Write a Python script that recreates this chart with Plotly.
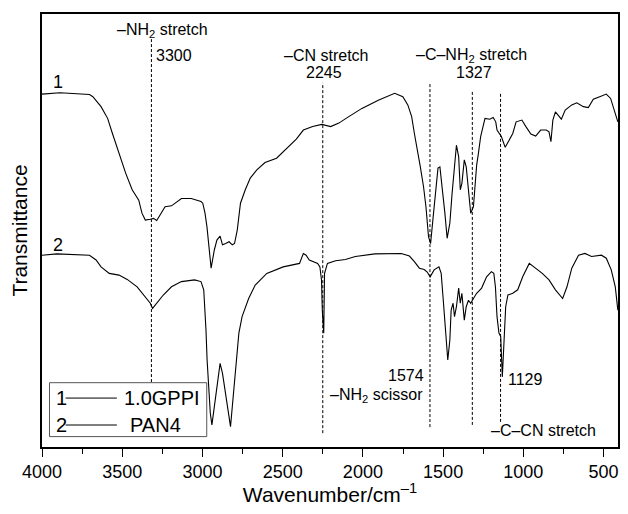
import plotly.graph_objects as go

# curve 1: 1.0GPPI
wn1 = [4000, 3888, 3704, 3683, 3632, 3591, 3561, 3520, 3478, 3438, 3397, 3377, 3356, 3325, 3305, 3285,
       3264, 3233, 3193, 3172, 3131, 3070, 3009, 2998, 2984, 2972, 2961, 2951, 2946, 2926, 2910, 2890,
       2875, 2855, 2834, 2814, 2800, 2783, 2773, 2763, 2733, 2702, 2661, 2610, 2538, 2477, 2415, 2371,
       2313, 2256, 2201, 2150, 2109, 2088, 2006, 1904, 1802, 1751, 1720, 1696, 1679, 1663, 1642, 1622,
       1607, 1591, 1578, 1564, 1546, 1532, 1520, 1506, 1489, 1475, 1458, 1444, 1429, 1417, 1403, 1393,
       1383, 1368, 1356, 1342, 1328, 1311, 1291, 1280, 1266, 1239, 1209, 1188, 1172, 1164, 1137, 1113,
       1086, 1066, 1045, 1009, 984, 953, 923, 892, 857, 840, 828, 816, 800, 775, 763, 739, 698, 667,
       626, 595, 564, 524, 483, 456, 432, 411]
t1 = [81.5, 81.8, 81.4, 80.9, 78.6, 75.9, 72.4, 67.8, 63.2, 59.4, 57.0, 54.0, 52.4, 52.6, 52.8, 52.3,
      53.6, 55.5, 55.7, 56.3, 57.4, 57.4, 56.7, 56.3, 54.0, 50.9, 46.3, 43.6, 41.3, 45.5, 47.8, 48.7,
      46.7, 47.0, 47.4, 46.7, 47.0, 50.1, 54.0, 56.3, 59.4, 62.1, 64.0, 65.7, 66.7, 69.0, 71.1, 73.2,
      74.0, 74.5, 74.0, 74.8, 75.9, 76.3, 78.2, 80.1, 81.7, 80.9, 79.0, 76.3, 72.4, 68.6, 64.7, 60.1,
      55.5, 48.6, 47.0, 52.4, 59.4, 64.4, 64.7, 60.1, 54.0, 48.2, 51.7, 58.6, 64.7, 69.7, 67.0, 59.4,
      60.9, 66.3, 64.7, 60.1, 54.0, 55.5, 65.1, 67.8, 71.7, 75.9, 75.7, 76.1, 75.1, 73.2, 71.7, 69.2,
      70.9, 72.4, 75.1, 75.5, 74.0, 72.3, 71.8, 73.2, 73.2, 72.8, 70.5, 75.5, 77.4, 76.3, 75.7, 77.8,
      79.0, 79.5, 78.6, 78.4, 80.3, 80.9, 81.5, 80.5, 77.8, 75.1]

# curve 2: PAN4
wn2 = [4000, 3908, 3704, 3663, 3632, 3581, 3520, 3469, 3407, 3356, 3325, 3311, 3285, 3244, 3193, 3131,
       3049, 3009, 2992, 2983, 2978, 2971, 2963, 2951, 2941, 2926, 2910, 2890, 2875, 2855, 2834, 2825,
       2814, 2794, 2773, 2753, 2712, 2671, 2599, 2497, 2395, 2371, 2354, 2334, 2282, 2268, 2258, 2253,
       2248, 2244, 2239, 2221, 2170, 2109, 2047, 1925, 1761, 1710, 1679, 1648, 1618, 1599, 1581, 1556,
       1526, 1512, 1499, 1485, 1471, 1458, 1450, 1438, 1429, 1417, 1403, 1393, 1383, 1368, 1356, 1342,
       1328, 1311, 1291, 1260, 1229, 1199, 1184, 1174, 1164, 1152, 1141, 1131, 1123, 1110, 1096, 1066,
       1035, 1004, 963, 923, 882, 840, 800, 755, 728, 698, 656, 616, 575, 513, 483, 452, 427, 411]
t2 = [44.3, 44.6, 44.3, 43.2, 41.6, 40.1, 39.7, 38.7, 37.0, 34.7, 33.2, 32.0, 33.2, 35.1, 37.0, 38.2,
      38.6, 38.2, 36.3, 31.6, 27.0, 20.1, 13.9, 7.8, 5.1, 9.3, 14.7, 19.3, 17.0, 11.6, 6.2, 4.7,
      9.3, 18.5, 26.3, 30.1, 34.3, 37.4, 40.1, 41.6, 42.4, 44.7, 44.3, 43.2, 42.4, 41.6, 38.6, 31.6,
      26.3, 26.3, 40.1, 42.4, 43.0, 43.3, 44.0, 44.6, 44.7, 44.1, 42.8, 41.3, 41.0, 40.4, 39.3, 40.9,
      41.6, 40.1, 33.9, 27.0, 20.1, 24.7, 31.6, 33.2, 30.1, 32.4, 36.7, 33.2, 35.5, 29.3, 32.4, 33.9,
      33.2, 34.3, 35.5, 36.7, 39.3, 40.5, 40.1, 37.0, 30.1, 26.3, 25.5, 16.2, 23.2, 32.4, 35.1, 35.5,
      36.3, 39.3, 42.4, 41.3, 40.1, 38.6, 36.3, 34.3, 37.0, 41.3, 44.3, 44.7, 44.0, 44.3, 43.6, 40.9,
      37.0, 31.6]

# marked bands: position, dashed line top / bottom (transmittance)
bands = [3318, 2250, 1582, 1318, 1142]
band_top = [94.2, 84.1, 84.1, 82.2, 82.0]
band_bottom = [15.0, 3.2, 4.6, 5.1, 5.8]

FONT = 'Arial, Liberation Sans, sans-serif'

fig = go.Figure()
fig.add_trace(go.Scatter(x = wn1, y = t1, mode = 'lines', line = dict(color = 'black', width = 1.1), showlegend = False))
fig.add_trace(go.Scatter(x = wn2, y = t2, mode = 'lines', line = dict(color = 'black', width = 1.1), showlegend = False))

for b, top, bot in zip(bands, band_top, band_bottom):
    fig.add_shape(type = 'line', xref = 'x', yref = 'y', x0 = b, x1 = b, y0 = bot, y1 = top,
                  line = dict(color = 'black', width = 1, dash = '3px,2px'))

labels = [
    ('–NH<sub>2</sub> stretch', 3250, 96.3, 16),
    ('3300', 3176, 90.5, 16),
    ('–CN stretch', 2231, 90.5, 16),
    ('2245', 2244, 86.4, 16),
    ('–C–NH<sub>2</sub> stretch', 1326, 90.5, 16),
    ('1327', 1305, 86.4, 16),
    ('1574', 1730, 16.6, 16),
    ('–NH<sub>2</sub> scissor', 1914, 12.0, 16),
    ('1129', 986, 15.5, 16),
    ('–C–CN stretch', 875, 3.9, 16),
    ('1', 3900, 84.3, 18),
    ('2', 3900, 46.7, 18),
]
for text, x, y, size in labels:
    fig.add_annotation(text = text, x = x, y = y, xref = 'x', yref = 'y', showarrow = False,
                       xanchor = 'center', yanchor = 'middle', font = dict(family = FONT, size = size, color = 'black'))

# hand made legend box
fig.add_shape(type = 'rect', xref = 'paper', yref = 'paper', x0 = 0.013, x1 = 0.286, y0 = 0.024, y1 = 0.1485,
              line = dict(color = '#555555', width = 1), fillcolor = 'white', layer = 'above')
for yy, num, name, cx in [(0.113, '1', '1.0GPPI', 0.209), (0.0508, '2', 'PAN4', 0.197)]:
    fig.add_annotation(text = num, x = 0.033, y = yy, xref = 'paper', yref = 'paper', showarrow = False,
                       xanchor = 'center', yanchor = 'middle', font = dict(family = FONT, size = 20, color = 'black'))
    fig.add_shape(type = 'line', xref = 'paper', yref = 'paper', x0 = 0.041, x1 = 0.130, y0 = yy, y1 = yy,
                  line = dict(color = 'black', width = 1), layer = 'above')
    fig.add_annotation(text = name, x = cx, y = yy, xref = 'paper', yref = 'paper', showarrow = False,
                       xanchor = 'center', yanchor = 'middle', font = dict(family = FONT, size = 20, color = 'black'))

fig.update_xaxes(
    range = [4000, 410],
    tickvals = [4000, 3500, 3000, 2500, 2000, 1500, 1000, 500],
    ticks = 'outside', ticklen = 8, tickwidth = 1.2, tickcolor = 'black',
    minor = dict(dtick = 250, ticks = 'outside', ticklen = 5, tickwidth = 1.2, tickcolor = 'black'),
    showline = True, linecolor = 'black', linewidth = 1.5, mirror = True,
    showgrid = False, zeroline = False, ticklabeloverflow = 'allow',
    tickfont = dict(family = FONT, size = 18, color = 'black'),
    title = dict(text = 'Wavenumber/cm<sup>–1</sup>', font = dict(family = FONT, size = 21, color = 'black'), standoff = 14),
)
fig.update_yaxes(
    range = [0, 100],
    showticklabels = False, ticks = '',
    showline = True, linecolor = 'black', linewidth = 1.5, mirror = True,
    showgrid = False, zeroline = False,
    title = dict(text = 'Transmittance', font = dict(family = FONT, size = 21, color = 'black'), standoff = 16),
)
# the page body adds 8px around the figure, so keep it inside the visible 620px
fig.update_layout(
    width = 612, height = 498,
    margin = dict(l = 34, r = 2, t = 6, b = 59, autoexpand = False),
    plot_bgcolor = 'white', paper_bgcolor = 'white',
    showlegend = False,
)
fig.write_html('out.html')
